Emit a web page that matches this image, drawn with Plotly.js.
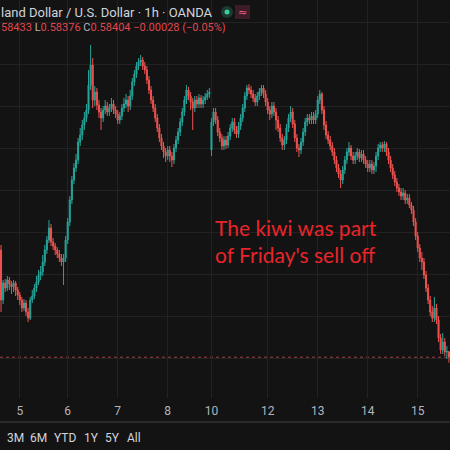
<!DOCTYPE html>
<html>
<head>
<meta charset="utf-8">
<script src="https://cdn.plot.ly/plotly-3.0.1.min.js"></script>
<style>html,body{margin:0;padding:0;background:#131313;}#chart{width:450px;height:450px;}</style>
</head>
<body>
<div id="chart"></div>
<script>
// Hourly NZD/USD candles (OANDA)
const openVals = [
0.58940,0.58690,0.58775,0.58750,0.58790,0.58770,0.58755,0.58775,0.58740,0.58715,
0.58690,0.58650,0.58675,0.58630,0.58600,0.58690,0.58710,0.58750,0.58780,0.58815,
0.58830,0.58880,0.58940,0.58990,0.59050,0.58980,0.58960,0.58940,0.58920,0.58900,
0.58880,0.58900,0.58990,0.59080,0.59190,0.59290,0.59350,0.59390,0.59480,0.59515,
0.59565,0.59600,0.59640,0.59765,0.59865,0.59690,0.59730,0.59665,0.59630,0.59600,
0.59640,0.59660,0.59630,0.59650,0.59670,0.59640,0.59620,0.59590,0.59610,0.59650,
0.59670,0.59690,0.59660,0.59710,0.59780,0.59820,0.59860,0.59880,0.59890,0.59860,
0.59840,0.59790,0.59740,0.59690,0.59650,0.59600,0.59550,0.59500,0.59460,0.59430,
0.59410,0.59440,0.59410,0.59390,0.59450,0.59490,0.59530,0.59580,0.59630,0.59690,
0.59740,0.59710,0.59680,0.59650,0.59690,0.59670,0.59700,0.59670,0.59690,0.59705,
0.59720,0.59440,0.59580,0.59630,0.59590,0.59530,0.59500,0.59460,0.59490,0.59465,
0.59510,0.59550,0.59580,0.59540,0.59520,0.59560,0.59600,0.59650,0.59710,0.59750,
0.59740,0.59720,0.59700,0.59680,0.59710,0.59730,0.59750,0.59720,0.59680,0.59640,
0.59620,0.59660,0.59630,0.59590,0.59550,0.59500,0.59465,0.59490,0.59550,0.59600,
0.59630,0.59570,0.59500,0.59450,0.59440,0.59480,0.59530,0.59580,0.59600,0.59590,
0.59610,0.59590,0.59620,0.59690,0.59720,0.59640,0.59565,0.59515,0.59490,0.59460,
0.59430,0.59390,0.59350,0.59320,0.59290,0.59340,0.59390,0.59430,0.59450,0.59410,
0.59390,0.59410,0.59430,0.59400,0.59420,0.59390,0.59370,0.59350,0.59370,0.59340,
0.59360,0.59410,0.59450,0.59465,0.59450,0.59470,0.59430,0.59390,0.59350,0.59315,
0.59280,0.59250,0.59230,0.59210,0.59225,0.59190,0.59200,0.59165,0.59140,0.59080,
0.59010,0.58950,0.58900,0.58880,0.58815,0.58750,0.58690,0.58630,0.58600,0.58650,
0.58590,0.58500,0.58440,0.58480,0.58430,0.58432];

const highVals = [
0.58965,0.58790,0.58795,0.58810,0.58805,0.58785,0.58790,0.58785,0.58755,0.58730,
0.58705,0.58695,0.58690,0.58650,0.58705,0.58740,0.58770,0.58810,0.58840,0.58860,
0.58915,0.58965,0.59010,0.59090,0.59070,0.59000,0.58975,0.58955,0.58940,0.58920,
0.58920,0.59010,0.59100,0.59210,0.59310,0.59375,0.59420,0.59500,0.59550,0.59590,
0.59630,0.59670,0.59840,0.59965,0.59900,0.59760,0.59750,0.59690,0.59650,0.59660,
0.59690,0.59680,0.59670,0.59700,0.59690,0.59660,0.59640,0.59630,0.59670,0.59700,
0.59720,0.59710,0.59740,0.59800,0.59840,0.59880,0.59900,0.59915,0.59905,0.59880,
0.59860,0.59810,0.59760,0.59710,0.59670,0.59620,0.59570,0.59520,0.59480,0.59450,
0.59460,0.59460,0.59430,0.59470,0.59510,0.59550,0.59600,0.59650,0.59710,0.59765,
0.59755,0.59730,0.59700,0.59710,0.59710,0.59720,0.59715,0.59710,0.59725,0.59740,
0.59750,0.59600,0.59650,0.59650,0.59610,0.59550,0.59520,0.59510,0.59510,0.59530,
0.59570,0.59600,0.59600,0.59560,0.59580,0.59620,0.59670,0.59730,0.59765,0.59770,
0.59760,0.59740,0.59720,0.59730,0.59750,0.59765,0.59765,0.59740,0.59700,0.59660,
0.59680,0.59680,0.59650,0.59610,0.59570,0.59520,0.59510,0.59570,0.59620,0.59660,
0.59650,0.59590,0.59520,0.59470,0.59500,0.59550,0.59600,0.59620,0.59620,0.59630,
0.59630,0.59640,0.59710,0.59740,0.59730,0.59660,0.59585,0.59535,0.59510,0.59480,
0.59450,0.59410,0.59370,0.59340,0.59360,0.59410,0.59450,0.59480,0.59465,0.59430,
0.59430,0.59450,0.59445,0.59440,0.59440,0.59410,0.59390,0.59390,0.59390,0.59380,
0.59430,0.59470,0.59480,0.59480,0.59485,0.59480,0.59450,0.59410,0.59370,0.59335,
0.59300,0.59270,0.59250,0.59250,0.59240,0.59220,0.59220,0.59180,0.59160,0.59100,
0.59030,0.58970,0.58930,0.58900,0.58835,0.58770,0.58710,0.58660,0.58705,0.58670,
0.58610,0.58520,0.58525,0.58500,0.58460,0.58433];

const lowVals = [
0.58630,0.58670,0.58730,0.58735,0.58740,0.58720,0.58730,0.58710,0.58690,0.58665,
0.58630,0.58635,0.58610,0.58580,0.58590,0.58675,0.58695,0.58730,0.58765,0.58790,
0.58810,0.58860,0.58920,0.58975,0.58960,0.58940,0.58915,0.58900,0.58880,0.58860,
0.58765,0.58880,0.58970,0.59060,0.59170,0.59270,0.59330,0.59370,0.59460,0.59490,
0.59540,0.59580,0.59620,0.59740,0.59650,0.59660,0.59640,0.59600,0.59540,0.59580,
0.59620,0.59610,0.59610,0.59630,0.59620,0.59600,0.59570,0.59570,0.59590,0.59630,
0.59650,0.59630,0.59640,0.59690,0.59760,0.59800,0.59840,0.59860,0.59840,0.59820,
0.59770,0.59720,0.59670,0.59630,0.59580,0.59530,0.59480,0.59440,0.59400,0.59380,
0.59390,0.59380,0.59355,0.59370,0.59430,0.59470,0.59510,0.59560,0.59610,0.59670,
0.59690,0.59640,0.59540,0.59630,0.59650,0.59650,0.59650,0.59650,0.59670,0.59690,
0.59700,0.59410,0.59560,0.59570,0.59510,0.59480,0.59440,0.59440,0.59445,0.59450,
0.59490,0.59530,0.59520,0.59500,0.59500,0.59540,0.59580,0.59630,0.59690,0.59720,
0.59700,0.59680,0.59660,0.59660,0.59690,0.59710,0.59700,0.59660,0.59620,0.59590,
0.59600,0.59610,0.59540,0.59530,0.59480,0.59440,0.59440,0.59470,0.59530,0.59580,
0.59550,0.59480,0.59430,0.59405,0.59420,0.59460,0.59510,0.59560,0.59570,0.59570,
0.59570,0.59570,0.59600,0.59670,0.59620,0.59540,0.59495,0.59470,0.59440,0.59410,
0.59370,0.59330,0.59300,0.59250,0.59270,0.59320,0.59370,0.59410,0.59390,0.59370,
0.59370,0.59390,0.59380,0.59380,0.59370,0.59350,0.59330,0.59330,0.59320,0.59320,
0.59330,0.59390,0.59430,0.59430,0.59430,0.59410,0.59370,0.59330,0.59295,0.59260,
0.59230,0.59210,0.59190,0.59190,0.59170,0.59170,0.59150,0.59120,0.59060,0.58990,
0.58930,0.58880,0.58840,0.58795,0.58730,0.58670,0.58610,0.58580,0.58580,0.58570,
0.58480,0.58420,0.58420,0.58410,0.58395,0.58376];

const closeVals = [
0.58690,0.58775,0.58750,0.58790,0.58770,0.58755,0.58775,0.58740,0.58715,0.58690,
0.58650,0.58675,0.58630,0.58600,0.58690,0.58710,0.58750,0.58780,0.58815,0.58830,
0.58880,0.58940,0.58990,0.59050,0.58980,0.58960,0.58940,0.58920,0.58900,0.58880,
0.58900,0.58990,0.59080,0.59190,0.59290,0.59350,0.59390,0.59480,0.59515,0.59565,
0.59600,0.59640,0.59765,0.59865,0.59690,0.59730,0.59665,0.59630,0.59600,0.59640,
0.59660,0.59630,0.59650,0.59670,0.59640,0.59620,0.59590,0.59610,0.59650,0.59670,
0.59690,0.59660,0.59710,0.59780,0.59820,0.59860,0.59880,0.59890,0.59860,0.59840,
0.59790,0.59740,0.59690,0.59650,0.59600,0.59550,0.59500,0.59460,0.59430,0.59410,
0.59440,0.59410,0.59390,0.59450,0.59490,0.59530,0.59580,0.59630,0.59690,0.59740,
0.59710,0.59680,0.59650,0.59690,0.59670,0.59700,0.59670,0.59690,0.59705,0.59720,
0.59730,0.59580,0.59630,0.59590,0.59530,0.59500,0.59460,0.59490,0.59465,0.59510,
0.59550,0.59580,0.59540,0.59520,0.59560,0.59600,0.59650,0.59710,0.59750,0.59740,
0.59720,0.59700,0.59680,0.59710,0.59730,0.59750,0.59720,0.59680,0.59640,0.59620,
0.59660,0.59630,0.59590,0.59550,0.59500,0.59465,0.59490,0.59550,0.59600,0.59630,
0.59570,0.59500,0.59450,0.59440,0.59480,0.59530,0.59580,0.59600,0.59590,0.59610,
0.59590,0.59620,0.59690,0.59720,0.59640,0.59565,0.59515,0.59490,0.59460,0.59430,
0.59390,0.59350,0.59320,0.59290,0.59340,0.59390,0.59430,0.59450,0.59410,0.59390,
0.59410,0.59430,0.59400,0.59420,0.59390,0.59370,0.59350,0.59370,0.59340,0.59360,
0.59410,0.59450,0.59465,0.59450,0.59470,0.59430,0.59390,0.59350,0.59315,0.59280,
0.59250,0.59230,0.59210,0.59225,0.59190,0.59200,0.59165,0.59140,0.59080,0.59010,
0.58950,0.58900,0.58880,0.58815,0.58750,0.58690,0.58630,0.58600,0.58650,0.58590,
0.58500,0.58440,0.58480,0.58430,0.58432,0.58404];

// Day labels on the time axis and the bar at which each day label sits
const dayLabels = ['5','6','7','8','10','12','13','14','15'];
const dayLabelBars = [9, 32, 56, 80, 101, 128, 152, 176, 200];

const rangeButtons = ['3M','6M','YTD','1Y','5Y','All'];

const symbolTitle = 'land Dollar / U.S. Dollar \u00b7 1h \u00b7 OANDA';
const lastHigh = highVals[highVals.length-1];
const lastLow = lowVals[lowVals.length-1];
const lastClose = closeVals[closeVals.length-1];
const prevClose = closeVals[closeVals.length-2];

const barIdx = openVals.map((_, i) => i);

const RED = '#ef5350', GREEN = '#26a69a';

const trace = {
  type: 'candlestick',
  x: barIdx, open: openVals, high: highVals, low: lowVals, close: closeVals,
  increasing: {line: {color: GREEN, width: 1}, fillcolor: GREEN},
  decreasing: {line: {color: RED, width: 1}, fillcolor: RED},
  whiskerwidth: 0,
  hoverinfo: 'skip',
  showlegend: false
};

const plotH = 398;
const py = px => (plotH - px) / plotH;   // pixel row -> paper y
const pxX = px => px / 450;

const chg = lastClose - prevClose;
const pct = chg / prevClose * 100;
const fmt = v => v.toFixed(5);
const minus = s => s.replace('-', '\u2212');
const ohlcLine =
  '<span style="color:#e0474f">' + fmt(lastHigh).slice(2) + '</span> ' +
  '<span style="color:#b2b5be">L</span><span style="color:#e0474f">' + fmt(lastLow) + '</span> ' +
  '<span style="color:#b2b5be">C</span><span style="color:#e0474f">' + fmt(lastClose) + '</span> ' +
  '<span style="color:#e0474f">' + minus(chg.toFixed(5)) + ' (' + minus(pct.toFixed(2)) + '%)</span>';

const btnX = [5, 28, 52, 82, 103, 125];
const annotations = [
  {xref:'paper', yref:'paper', x:pxX(-1), y:py(12), xanchor:'left', yanchor:'middle', showarrow:false,
   text: symbolTitle, font:{family:'Roboto, sans-serif', size:13, color:'#d1d4dc'}},
  {xref:'paper', yref:'paper', x:pxX(-1), y:py(28), xanchor:'left', yanchor:'middle', showarrow:false,
   text: ohlcLine, font:{family:'Roboto, sans-serif', size:11, color:'#e0474f'}},
  {xref:'paper', yref:'paper', x:pxX(242.5), y:py(12), xanchor:'center', yanchor:'middle', showarrow:false,
   text:'\u2248', font:{family:'DejaVu Sans', size:11, color:'#f0608a'}},
  {xref:'paper', yref:'paper', x:pxX(213), y:py(227), xanchor:'left', yanchor:'middle', showarrow:false,
   text:'The kiwi was part', font:{family:'Lato, sans-serif', size:21, color:'#e8252b'}},
  {xref:'paper', yref:'paper', x:pxX(213), y:py(254), xanchor:'left', yanchor:'middle', showarrow:false,
   text:"of Friday's sell off", font:{family:'Lato, sans-serif', size:21, color:'#e8252b'}}
];
rangeButtons.forEach((b, i) => annotations.push({
  xref:'paper', yref:'paper', x:pxX(btnX[i]), y:py(438), xanchor:'left', yanchor:'middle', showarrow:false,
  text:b, font:{family:'Roboto, sans-serif', size:12, color:'#d1d4dc'}
}));

const shapes = [
  {type:'line', xref:'paper', yref:'y', x0:0, x1:1, y0:lastClose, y1:lastClose,
   line:{color:'#9c3f45', width:1, dash:'dot'}, layer:'below'},
  {type:'line', xref:'paper', yref:'paper', x0:0, x1:1, y0:py(422), y1:py(422),
   line:{color:'#2a2a2a', width:2}},
  {type:'circle', xref:'paper', yref:'paper', x0:pxX(221), x1:pxX(233), y0:py(18), y1:py(6),
   fillcolor:'#1c3a32', line:{width:0}},
  {type:'circle', xref:'paper', yref:'paper', x0:pxX(224.5), x1:pxX(229.5), y0:py(14.5), y1:py(9.5),
   fillcolor:'#3ccf9a', line:{width:0}},
  {type:'rect', xref:'paper', yref:'paper', x0:pxX(235), x1:pxX(250), y0:py(19), y1:py(5),
   fillcolor:'#3b1c27', line:{width:0}}
];

const layout = {
  width: 450, height: 450,
  margin: {l:0, r:0, t:0, b:52, pad:0},
  paper_bgcolor: '#131313', plot_bgcolor: '#131313',
  showlegend: false,
  xaxis: {
    range: [-0.5, 215.5], tickmode:'array', tickvals: dayLabelBars, ticktext: dayLabels,
    showgrid: true, gridcolor: '#222222', gridwidth: 1, zeroline: false, showline: false,
    ticks: '', ticklabelstandoff: 4,
    tickfont: {family:'Roboto, sans-serif', size:12, color:'#b2b5be'},
    rangeslider: {visible: false}, fixedrange: true
  },
  yaxis: {
    range: [0.582, 0.6019], tick0: 0.584, dtick: 0.0021, showticklabels: false,
    showgrid: true, gridcolor: '#222222', gridwidth: 1, zeroline: false, showline: false,
    ticks: '', fixedrange: true
  },
  annotations: annotations,
  shapes: shapes
};

Plotly.newPlot('chart', [trace], layout, {displayModeBar: false, staticPlot: true});
</script>
</body>
</html>
